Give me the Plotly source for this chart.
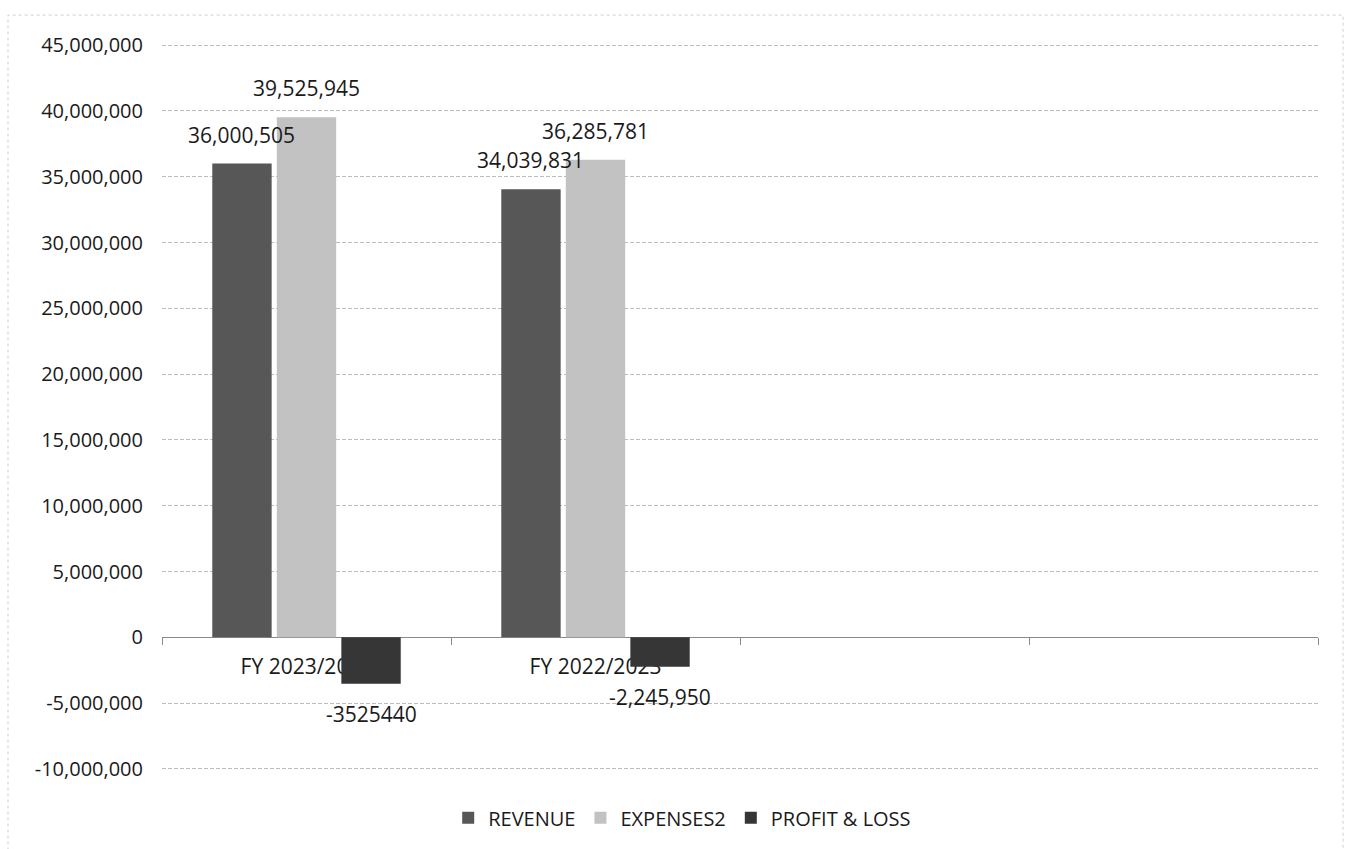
import plotly.graph_objects as go

categories = ["FY 2023/2024", "FY 2022/2023", " ", "  "]
revenue = [36000505, 34039831, None, None]
expenses = [39525945, 36285781, None, None]
profit_loss = [-3525440, -2245950, None, None]

revenue_labels = ["36,000,505", "34,039,831", "", ""]
expenses_labels = ["39,525,945", "36,285,781", "", ""]
profit_loss_labels = ["-3525440", "-2,245,950", "", ""]

y_ticks = [-10000000, -5000000, 0, 5000000, 10000000, 15000000, 20000000,
           25000000, 30000000, 35000000, 40000000, 45000000]
y_tick_labels = ["-10,000,000", "-5,000,000", "0", "5,000,000", "10,000,000",
                 "15,000,000", "20,000,000", "25,000,000", "30,000,000",
                 "35,000,000", "40,000,000", "45,000,000"]

FONT = "Open Sans"
W, H = 1347, 849
ML, MR, MT, MB = 162, 29, 43, 76
BARGAP, GROUPGAP = 0.33, 0.08
y_min, y_max = -10000000, 45000000
pad = 160000

fig = go.Figure()
series = [
    ("REVENUE", revenue, revenue_labels, "#575757"),
    ("EXPENSES2", expenses, expenses_labels, "#c2c2c2"),
    ("PROFIT & LOSS", profit_loss, profit_loss_labels, "#363636"),
]
for name, vals, labels, color in series:
    fig.add_trace(go.Bar(
        name=name, x=categories, y=vals,
        marker=dict(color=color, line=dict(width=0)),
    ))

# data labels as annotations (drawn above all bars, like the original)
cat_px = (W - ML - MR) / len(categories)
slot_px = cat_px * (1 - BARGAP) / len(series)
annotations = []
for i, (name, vals, labels, color) in enumerate(series):
    xshift = (i - (len(series) - 1) / 2) * slot_px
    for cat, v, lab in zip(categories, vals, labels):
        if v is None or not lab:
            continue
        annotations.append(dict(
            x=cat, y=v, xref="x", yref="y", text=lab, showarrow=False,
            xshift=xshift, yshift=(29 if v >= 0 else -30),
            font=dict(family=FONT, size=21, color="#1a1a1a"),
        ))

plot_h = H - MT - MB
fig.update_layout(
    width=W, height=H,
    paper_bgcolor="white", plot_bgcolor="white",
    margin=dict(l=ML, r=MR, t=MT, b=MB),
    barmode="group", bargap=BARGAP, bargroupgap=GROUPGAP,
    font=dict(family=FONT, size=20, color="#1a1a1a"),
    legend=dict(orientation="h", x=0.45, xanchor="center", y=-47 / plot_h, yanchor="middle",
                font=dict(family=FONT, size=20), itemwidth=30,
                traceorder="normal"),
    xaxis=dict(
        type="category", anchor="free",
        position=(0 - (y_min - pad)) / (y_max - y_min + 2 * pad),
        showline=True, linecolor="#8a8a8a", linewidth=1,
        ticks="outside", tickson="boundaries", ticklen=7, tickcolor="#8a8a8a",
        showgrid=False, layer="below traces",
        ticklabelstandoff=11,
        tickfont=dict(family=FONT, size=21, color="#1a1a1a"),
    ),
    yaxis=dict(
        range=[y_min - pad, y_max + pad], tickvals=y_ticks, ticktext=y_tick_labels,
        showgrid=True, gridcolor="#bdbdbd", gridwidth=1, griddash="4px,2px",
        zeroline=False, showline=False, ticks="",
        ticklabelstandoff=18,
        tickfont=dict(family=FONT, size=20, color="#1a1a1a"),
    ),
    annotations=annotations,
    shapes=[dict(type="rect", xref="paper", yref="paper",
                 x0=-154 / 1156, x1=1 + 25 / 1156, y0=-92 / plot_h, y1=1 + 28 / plot_h,
                 line=dict(color="#cfcfcf", width=1, dash="dot"), layer="below")],
)

fig.write_html("out.html")
